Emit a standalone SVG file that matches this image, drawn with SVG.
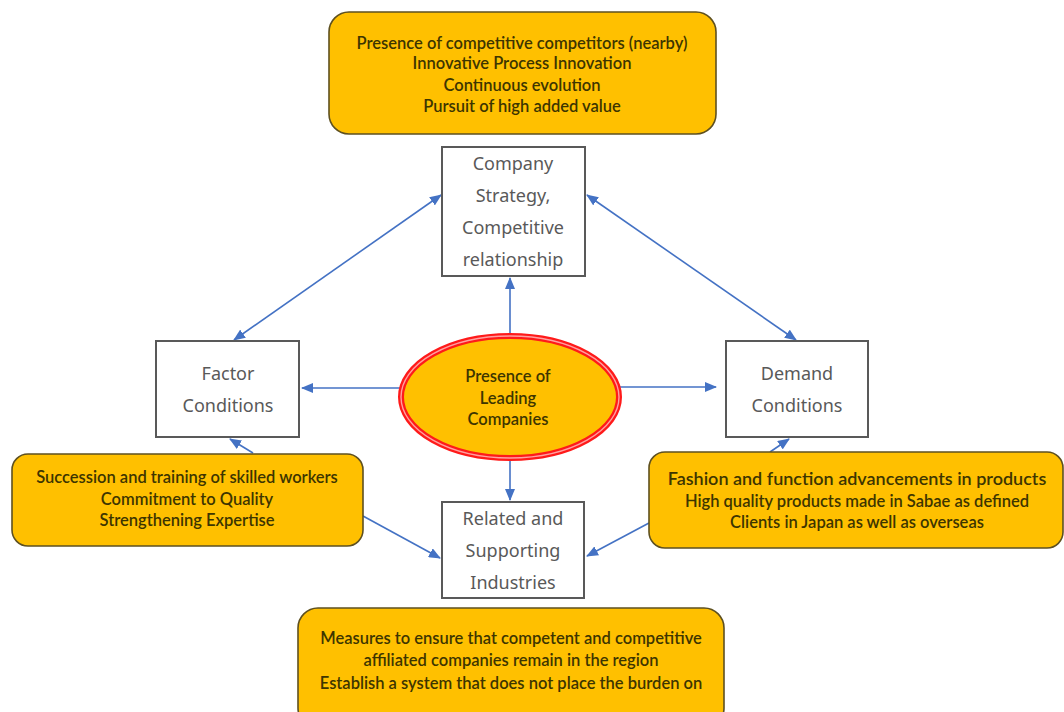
<svg xmlns="http://www.w3.org/2000/svg" width="1064" height="712" viewBox="0 0 1064 712">
<defs>
<marker id="ah" markerUnits="userSpaceOnUse" markerWidth="12" markerHeight="10" refX="11" refY="5" orient="auto-start-reverse" viewBox="0 0 12 10">
<path d="M0,0 L12,5 L0,10 z" fill="#4472C4"/>
</marker>
<style>
.con{stroke:#4472C4;stroke-width:1.6;fill:none}
.box{fill:#ffffff;stroke:#595959;stroke-width:2}
.ybox{fill:#FFC000;stroke:#5e5020;stroke-width:1.6}
.bt{font-family:"Noto Sans","DejaVu Sans",sans-serif;font-size:18px;fill:#595959;text-anchor:middle}
.yt{font-family:Lato,"Liberation Sans",sans-serif;font-size:16.5px;fill:#3d3500;text-anchor:middle;font-weight:600}
</style>
</defs>
<rect width="1064" height="712" fill="#ffffff"/>
<g id="connectors">
<line class="con" x1="510" y1="334" x2="510" y2="278" marker-end="url(#ah)"/>
<line class="con" x1="400" y1="388" x2="302" y2="388" marker-end="url(#ah)"/>
<line class="con" x1="620" y1="387" x2="716" y2="387" marker-end="url(#ah)"/>
<line class="con" x1="510" y1="460" x2="510" y2="500" marker-end="url(#ah)"/>
<line class="con" x1="441" y1="195" x2="234" y2="340" marker-start="url(#ah)" marker-end="url(#ah)"/>
<line class="con" x1="587" y1="195" x2="796" y2="340" marker-start="url(#ah)" marker-end="url(#ah)"/>
<line class="con" x1="253" y1="453" x2="230" y2="439" marker-end="url(#ah)"/>
<line class="con" x1="363" y1="516" x2="440" y2="558" marker-end="url(#ah)"/>
<line class="con" x1="770" y1="452" x2="789" y2="439" marker-end="url(#ah)"/>
<line class="con" x1="649" y1="523" x2="587" y2="556" marker-end="url(#ah)"/>
</g>
<g id="top-note">
<rect class="ybox" x="329" y="12" width="387" height="122" rx="20"/>
<text class="yt" x="522" y="49">Presence of competitive competitors (nearby)</text>
<text class="yt" x="522" y="69">Innovative Process Innovation</text>
<text class="yt" x="522" y="91">Continuous evolution</text>
<text class="yt" x="522" y="112">Pursuit of high added value</text>
</g>
<g id="company-strategy">
<rect class="box" x="442" y="147" width="143" height="129"/>
<text class="bt" x="513" y="170">Company</text>
<text class="bt" x="513" y="202">Strategy,</text>
<text class="bt" x="513" y="234">Competitive</text>
<text class="bt" x="513" y="266">relationship</text>
</g>
<g id="factor-conditions">
<rect class="box" x="156" y="341" width="143" height="96"/>
<text class="bt" x="228" y="380">Factor</text>
<text class="bt" x="228" y="412">Conditions</text>
</g>
<g id="demand-conditions">
<rect class="box" x="726" y="341" width="142" height="96"/>
<text class="bt" x="797" y="380">Demand</text>
<text class="bt" x="797" y="412">Conditions</text>
</g>
<g id="related-supporting">
<rect class="box" x="442" y="502" width="142" height="96"/>
<text class="bt" x="513" y="525">Related and</text>
<text class="bt" x="513" y="557">Supporting</text>
<text class="bt" x="513" y="589">Industries</text>
</g>
<g id="leading-companies">
<ellipse cx="510" cy="397" rx="109" ry="61" fill="#FFC000" stroke="#FF1A1A" stroke-width="6"/>
<ellipse cx="510" cy="397" rx="109" ry="61" fill="none" stroke="#FFA0A0" stroke-width="1.4"/>
<text class="yt" x="508" y="382">Presence of</text>
<text class="yt" x="508" y="404">Leading</text>
<text class="yt" x="508" y="425">Companies</text>
</g>
<g id="factor-note">
<rect class="ybox" x="12" y="454" width="351" height="92" rx="16"/>
<text class="yt" x="187" y="483">Succession and training of skilled workers</text>
<text class="yt" x="187" y="505">Commitment to Quality</text>
<text class="yt" x="187" y="526">Strengthening Expertise</text>
</g>
<g id="demand-note">
<rect class="ybox" x="649" y="452" width="414" height="96" rx="16"/>
<text class="yt" x="857" y="485" style="font-size:18px">Fashion and function advancements in products</text>
<text class="yt" x="857" y="507">High quality products made in Sabae as defined</text>
<text class="yt" x="857" y="528">Clients in Japan as well as overseas</text>
</g>
<g id="bottom-note">
<rect class="ybox" x="298" y="608" width="426" height="120" rx="20"/>
<text class="yt" x="511" y="644">Measures to ensure that competent and competitive</text>
<text class="yt" x="511" y="666">affiliated companies remain in the region</text>
<text class="yt" x="511" y="689">Establish a system that does not place the burden on</text>
</g>
</svg>
